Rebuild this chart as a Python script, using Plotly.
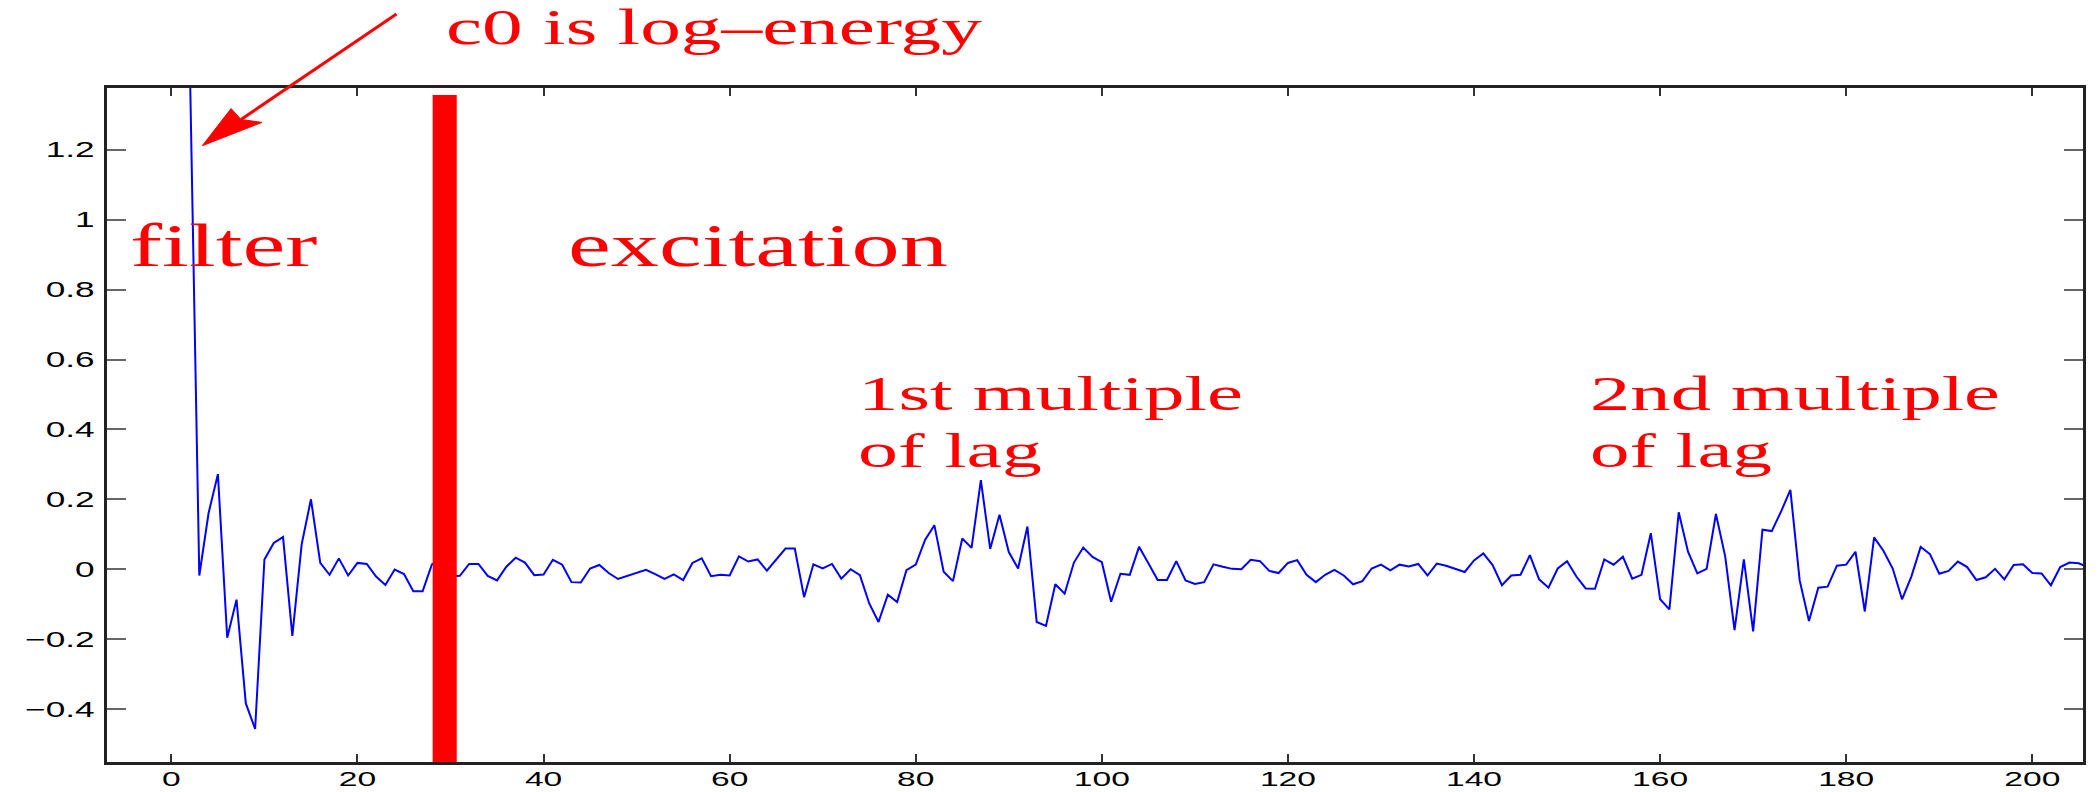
import json
import plotly.graph_objects as go

# ---------------- data ----------------
LAG = list(range(0, 207))
CEPSTRUM = [
    5.5, 2.9, 1.42, -0.018, 0.161, 0.272, -0.196, -0.087, -0.384, -0.457,   # 0-9
    0.028, 0.075, 0.092, -0.191, 0.071, 0.200, 0.018, -0.016, 0.031, -0.018,  # 10-19
    0.018, 0.015, -0.021, -0.045, -0.001, -0.014, -0.063, -0.063, 0.014, 0.030,  # 20-29
    -0.020, -0.019, 0.015, 0.015, -0.019, -0.032, 0.007, 0.033, 0.019, -0.017,  # 30-39
    -0.015, 0.027, 0.013, -0.037, -0.038, 0.002, 0.012, -0.011, -0.028, -0.019,  # 40-49
    -0.011, -0.002, -0.014, -0.028, -0.015, -0.031, 0.018, 0.031, -0.020, -0.016,  # 50-59
    -0.018, 0.037, 0.022, 0.028, -0.004, 0.027, 0.059, 0.059, -0.080, 0.014,  # 60-69
    0.002, 0.015, -0.027, 0.000, -0.017, -0.098, -0.151, -0.073, -0.094, -0.003,  # 70-79
    0.013, 0.084, 0.126, -0.007, -0.034, 0.088, 0.061, 0.255, 0.058, 0.156,  # 80-89
    0.049, 0.002, 0.122, -0.151, -0.162, -0.043, -0.070, 0.019, 0.062, 0.035,  # 90-99
    0.020, -0.093, -0.013, -0.016, 0.064, 0.017, -0.031, -0.031, 0.023, -0.032,  # 100-109
    -0.042, -0.037, 0.014, 0.007, 0.001, 0.000, 0.027, 0.023, -0.005, -0.011,  # 110-119
    0.018, 0.026, -0.016, -0.037, -0.016, -0.002, -0.018, -0.043, -0.034, 0.002,  # 120-129
    0.013, -0.003, 0.013, 0.008, 0.015, -0.018, 0.016, 0.010, 0.002, -0.008,  # 130-139
    0.025, 0.045, 0.012, -0.046, -0.018, -0.016, 0.040, -0.029, -0.053, 0.002,  # 140-149
    0.023, -0.021, -0.055, -0.056, 0.028, 0.013, 0.036, -0.027, -0.016, 0.103,  # 150-159
    -0.086, -0.115, 0.163, 0.050, -0.012, 0.001, 0.158, 0.036, -0.174, 0.028,  # 160-169
    -0.178, 0.113, 0.109, 0.165, 0.227, -0.032, -0.148, -0.053, -0.050, 0.010,  # 170-179
    0.013, 0.050, -0.121, 0.091, 0.053, 0.002, -0.086, -0.021, 0.064, 0.043,  # 180-189
    -0.013, -0.005, 0.022, 0.006, -0.031, -0.023, 0.001, -0.029, 0.012, 0.014,  # 190-199
    -0.011, -0.012, -0.046, 0.006, 0.019, 0.017, 0.005,                        # 200-206
]
X_TICKS = [0, 20, 40, 60, 80, 100, 120, 140, 160, 180, 200]
X_TICK_LABELS = ["0", "20", "40", "60", "80", "100", "120", "140", "160", "180", "200"]
Y_TICKS = [-0.4, -0.2, 0, 0.2, 0.4, 0.6, 0.8, 1.0, 1.2]
Y_TICK_LABELS = ["\u22120.4", "\u22120.2", "0", "0.2", "0.4", "0.6", "0.8", "1", "1.2"]
BOUNDARY_LAG = (28.08, 30.67)   # filter / excitation divider
BOUNDARY_TOP = 1.357

# ---------------- layout geometry ----------------
W, H = 2100, 792
ML, MR, MT, MB = 107, 17, 88, 30
X_RANGE = [-6.92, 205.45]
Y_RANGE = [-0.5516, 1.3768]
PW, PH = W - ML - MR, H - MT - MB


def px(xp):
    return (xp - ML) / PW


def py(yp):
    return (H - MB - yp) / PH


RED = "#ff0000"
SERIF = "Liberation Serif, Times New Roman, serif"
SANS = "Liberation Sans, Arial, Helvetica, sans-serif"

fig = go.Figure()
fig.add_trace(go.Scatter(
    x=LAG, y=CEPSTRUM, mode="lines",
    line=dict(color="#0000ff", width=2),
    hoverinfo="skip", showlegend=False,
))

shapes = [
    dict(type="rect", xref="x", yref="y",
         x0=BOUNDARY_LAG[0], x1=BOUNDARY_LAG[1], y0=Y_RANGE[0], y1=BOUNDARY_TOP,
         fillcolor=RED, line=dict(width=0), layer="above"),
]

# arrow for "c0 is log-energy"
tip = (202.3, 145.7)
c1 = (231.1, 108.6)
c2 = (262.0, 122.4)
notch = (241.0, 119.5)
start = (396.5, 14.0)
shapes.append(dict(type="line", xref="paper", yref="paper",
                   x0=px(start[0]), y0=py(start[1]), x1=px(notch[0]), y1=py(notch[1]),
                   line=dict(color=RED, width=3)))
shapes.append(dict(type="path", xref="paper", yref="paper",
                   path=(f"M {px(tip[0])} {py(tip[1])} L {px(c1[0])} {py(c1[1])} "
                         f"L {px(notch[0])} {py(notch[1])} L {px(c2[0])} {py(c2[1])} Z"),
                   fillcolor=RED, line=dict(color=RED, width=1)))

annots = []
text_widths = []   # horizontal extent of each label in the reference (px)


def add_text(text, left, baseline, size, width):
    annots.append(dict(
        text=text, xref="paper", yref="paper",
        x=px(left - 2), y=py(baseline - 0.3375 * size), xanchor="left", yanchor="middle",
        align="left", showarrow=False,
        font=dict(family=SERIF, size=size, color=RED),
    ))
    text_widths.append(width)


add_text("c0 is log\u2013energy", 446, 43.5, 50, 536)
add_text("filter", 130, 266, 62, 188)
add_text("excitation", 568, 266, 62, 380)
add_text("1st multiple", 858, 410, 48, 385)
add_text("of lag", 858, 467, 48, 184)
add_text("2nd multiple", 1590, 410, 48, 410)
add_text("of lag", 1590, 467, 48, 182)

fig.update_layout(
    width=W, height=H,
    margin=dict(l=ML, r=MR, t=MT, b=MB, autoexpand=False),
    paper_bgcolor="white", plot_bgcolor="white",
    shapes=shapes, annotations=annots, showlegend=False,
    xaxis=dict(
        range=X_RANGE, tickmode="array", tickvals=X_TICKS, ticktext=X_TICK_LABELS,
        ticks="inside", ticklen=8, tickwidth=2, tickcolor="#333",
        showline=True, linecolor="#222", linewidth=3, mirror="ticks",
        showgrid=False, zeroline=False, ticklabelstandoff=-4,
        tickfont=dict(family=SANS, size=21, color="black"),
    ),
    yaxis=dict(
        range=Y_RANGE, tickmode="array", tickvals=Y_TICKS, ticktext=Y_TICK_LABELS,
        ticks="inside", ticklen=19, tickwidth=2, tickcolor="#666",
        showline=True, linecolor="#222", linewidth=3, mirror="ticks",
        showgrid=False, zeroline=False, ticklabelstandoff=5,
        tickfont=dict(family=SANS, size=22, color="black"),
    ),
)

# The reference's lettering is horizontally stretched; reproduce that by
# scaling the real SVG text elements sideways after plotting.
post_js = """
(function(){
  var gd = document.getElementsByClassName('plotly-graph-div')[0];
  var widths = %s;
  function stretch(el, s, mode){
    if (el.getAttribute('data-stretched')) return;
    var b = el.getBBox();
    var cx = mode === 'left' ? b.x : (mode === 'right' ? b.x + b.width : b.x + b.width / 2);
    var t = el.getAttribute('transform') || '';
    el.setAttribute('transform', t + ' translate(' + cx + ',0) scale(' + s + ',1) translate(' + (-cx) + ',0)');
    el.setAttribute('data-stretched', '1');
  }
  var anns = gd.querySelectorAll('text.annotation-text');
  for (var i = 0; i < anns.length && i < widths.length; i++) {
    var b = anns[i].getBBox();
    if (b.width > 0) stretch(anns[i], widths[i] / b.width, 'left');
  }
  gd.querySelectorAll('.xtick text').forEach(function(el){ stretch(el, 1.6, 'center'); });
  gd.querySelectorAll('.ytick text').forEach(function(el){ stretch(el, 1.6, 'right'); });
})();
""" % json.dumps(text_widths)

fig.write_html("out.html", post_script=post_js)
